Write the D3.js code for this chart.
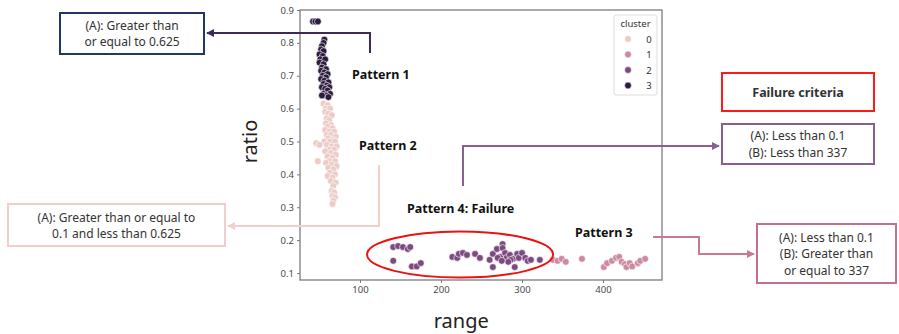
<!DOCTYPE html>
<html>
<head>
<meta charset="utf-8">
<script src="https://cdn.jsdelivr.net/npm/d3@7"></script>
<style>
  body { margin: 0; background: #fff; }
  text { font-family: "Noto Sans", "Open Sans", sans-serif; }
</style>
</head>
<body>
<div id="canvas"></div>
<script>
"use strict"

// canvas size
let svgWidth = 899;
let svgHeight = 334;

// plot frame (pixels)
let plotLeft = 300;
let plotRight = 662;
let plotTop = 10;
let plotBottom = 280;

// DATA, [range, ratio]

let cluster3 = [
    [42, 0.865], [45, 0.865], [48, 0.865],
    [56, 0.81], [55, 0.80], [53, 0.79], [52, 0.78], [55, 0.775], [50, 0.765], [54, 0.76],
    [51, 0.75], [57, 0.75], [50, 0.74], [55, 0.735], [53, 0.725], [58, 0.72], [52, 0.715],
    [56, 0.71], [60, 0.705], [54, 0.70], [58, 0.695], [52, 0.69], [56, 0.685], [61, 0.68],
    [55, 0.675], [59, 0.67], [53, 0.665], [62, 0.665], [57, 0.66], [60, 0.655], [55, 0.645],
    [63, 0.645], [58, 0.64], [61, 0.635], [53, 0.64]
];

let cluster0 = [
    [55, 0.615], [60, 0.61], [58, 0.60], [63, 0.60], [57, 0.59], [61, 0.585], [65, 0.58],
    [59, 0.57], [62, 0.565], [58, 0.555], [64, 0.55], [60, 0.545], [66, 0.54], [57, 0.535],
    [62, 0.53], [68, 0.53], [59, 0.52], [64, 0.52], [70, 0.515], [61, 0.51], [66, 0.505],
    [56, 0.50], [63, 0.50], [69, 0.50], [46, 0.495], [50, 0.49], [59, 0.49], [65, 0.485],
    [71, 0.485], [62, 0.475], [68, 0.475], [57, 0.47], [64, 0.465], [70, 0.46], [60, 0.455],
    [66, 0.45], [48, 0.44], [62, 0.44], [69, 0.44], [58, 0.435], [65, 0.43], [71, 0.425],
    [61, 0.42], [67, 0.415], [63, 0.405], [69, 0.40], [60, 0.395], [66, 0.39], [64, 0.38],
    [70, 0.375], [67, 0.365], [65, 0.35], [68, 0.345], [66, 0.335], [69, 0.33], [67, 0.32],
    [66, 0.31]
];

let cluster2 = [
    [141, 0.179], [147, 0.182], [153, 0.179], [159, 0.173], [162, 0.179], [141, 0.137],
    [164, 0.12], [170, 0.12], [175, 0.13],
    [214, 0.149], [220, 0.146], [222, 0.158], [227, 0.161], [232, 0.155],
    [242, 0.158], [248, 0.146],
    [260, 0.14], [264, 0.158], [264, 0.118], [269, 0.173], [273, 0.149], [276, 0.188],
    [276, 0.176], [279, 0.161], [281, 0.146], [270, 0.146], [285, 0.155], [289, 0.143],
    [291, 0.118], [294, 0.158], [296, 0.146], [300, 0.161], [304, 0.146], [307, 0.137],
    [311, 0.14], [322, 0.14], [286, 0.14], [283, 0.134], [275, 0.137]
];

let cluster1 = [
    [338, 0.14], [344, 0.137], [349, 0.143], [354, 0.134], [374, 0.143],
    [401, 0.118], [405, 0.13], [411, 0.137], [416, 0.146], [420, 0.149], [423, 0.134],
    [427, 0.127], [429, 0.118], [433, 0.13], [436, 0.12], [443, 0.13], [446, 0.137],
    [452, 0.143]
];

let clusterNames = ["0", "1", "2", "3"];
let clusterColors = ["#ecccc6", "#cc8aa2", "#7c4a80", "#2c1d3d"];

let xTicks = [100, 200, 300, 400];
let yTicks = [0.1, 0.2, 0.3, 0.4, 0.5, 0.6, 0.7, 0.8, 0.9];

// merge into one list for drawing
let points = [];
[cluster0, cluster1, cluster2, cluster3].forEach(function (list, i) {
    list.forEach(function (p) {
        points.push({ range: p[0], ratio: p[1], cluster: clusterNames[i] });
    });
});

// SCALES
let xScale = d3.scaleLinear()
    .domain([25.9, 472.8])
    .range([plotLeft, plotRight]);

let yScale = d3.scaleLinear()
    .domain([0.0787, 0.9])
    .range([plotBottom, plotTop]);

let colorScale = d3.scaleOrdinal()
    .domain(clusterNames)
    .range(clusterColors);

// CANVAS
let svg = d3.select("#canvas")
    .append("svg")
    .attr("width", svgWidth)
    .attr("height", svgHeight);

svg.append("rect")
    .attr("width", svgWidth)
    .attr("height", svgHeight)
    .attr("fill", "white");

// arrowheads
let defs = svg.append("defs");
function addMarker(id, color) {
    defs.append("marker")
        .attr("id", id)
        .attr("viewBox", "0 0 10 10")
        .attr("refX", 9)
        .attr("refY", 5)
        .attr("markerWidth", 4)
        .attr("markerHeight", 4)
        .attr("orient", "auto")
        .append("path")
        .attr("d", "M0,0 L10,5 L0,10 z")
        .attr("fill", color);
}
addMarker("arrDark", "#3d2a58");
addMarker("arrLight", "#f3cfcb");
addMarker("arrPurple", "#8d5d90");
addMarker("arrPink", "#c87794");

// AXES
let xAxis = svg.append("g")
    .attr("transform", "translate(0," + plotBottom + ")")
    .call(d3.axisBottom(xScale).tickValues(xTicks).tickSize(3).tickFormat(d3.format("d")));

let yAxis = svg.append("g")
    .attr("transform", "translate(" + plotLeft + ",0)")
    .call(d3.axisLeft(yScale).tickValues(yTicks).tickSize(3).tickFormat(d3.format(".1f")));

[xAxis, yAxis].forEach(function (ax) {
    ax.select(".domain").remove();
    ax.selectAll("line").attr("stroke", "#7a7a7a");
    ax.selectAll("text")
        .attr("fill", "#4a4a4a")
        .style("font-size", "9.5px")
        .style("font-family", "'Noto Sans', sans-serif");
});

// frame
svg.append("rect")
    .attr("x", plotLeft)
    .attr("y", plotTop)
    .attr("width", plotRight - plotLeft)
    .attr("height", plotBottom - plotTop)
    .attr("fill", "none")
    .attr("stroke", "#7d7d7d")
    .attr("stroke-width", 1.3);

// axis titles
svg.append("text")
    .attr("x", xScale(225))
    .attr("y", 328)
    .attr("text-anchor", "middle")
    .style("font-size", "20px")
    .attr("fill", "#222")
    .text("range");

svg.append("text")
    .attr("transform", "translate(257," + yScale(0.5) + ") rotate(-90)")
    .attr("text-anchor", "middle")
    .style("font-size", "20px")
    .attr("fill", "#222")
    .text("ratio");

// SCATTER
svg.selectAll("circle.point")
    .data(points)
    .join("circle")
    .attr("class", "point")
    .attr("cx", function (d) { return xScale(d.range); })
    .attr("cy", function (d) { return yScale(d.ratio); })
    .attr("r", 3.4)
    .attr("fill", function (d) { return colorScale(d.cluster); })
    .attr("stroke", "white")
    .attr("stroke-width", 0.6);

// LEGEND
let legend = svg.append("g");
legend.append("rect")
    .attr("x", 614).attr("y", 15)
    .attr("width", 43).attr("height", 80)
    .attr("rx", 2)
    .attr("fill", "white")
    .attr("stroke", "#dddddd");
legend.append("text")
    .attr("x", 635.5).attr("y", 27)
    .attr("text-anchor", "middle")
    .style("font-size", "9.5px")
    .attr("fill", "#333")
    .text("cluster");
clusterNames.forEach(function (c, i) {
    legend.append("circle")
        .attr("cx", 628).attr("cy", 39 + i * 15.5)
        .attr("r", 3.4)
        .attr("fill", colorScale(c))
        .attr("stroke", "white")
        .attr("stroke-width", 0.6);
    legend.append("text")
        .attr("x", 649).attr("y", 42.5 + i * 15.5)
        .attr("text-anchor", "middle")
        .style("font-size", "9.5px")
        .attr("fill", "#333")
        .text(c);
});

// ANNOTATIONS

function patternLabel(x, y, txt) {
    svg.append("text")
        .attr("x", x).attr("y", y)
        .style("font-size", "12.5px")
        .style("font-weight", "bold")
        .attr("fill", "#111")
        .text(txt);
}
patternLabel(352, 79, "Pattern 1");
patternLabel(359, 150, "Pattern 2");
patternLabel(407, 213, "Pattern 4: Failure");
patternLabel(575, 237, "Pattern 3");

function box(x, y, w, h, color, lines, lineGap, bold) {
    svg.append("rect")
        .attr("x", x).attr("y", y)
        .attr("width", w).attr("height", h)
        .attr("fill", "white")
        .attr("stroke", color)
        .attr("stroke-width", 2);
    let startY = y + h / 2 - (lines.length - 1) * lineGap / 2 + 4.5;
    lines.forEach(function (t, i) {
        svg.append("text")
            .attr("x", x + w / 2)
            .attr("y", startY + i * lineGap)
            .attr("text-anchor", "middle")
            .style("font-size", bold ? "12.5px" : "12px")
            .style("font-weight", bold ? "bold" : "normal")
            .attr("fill", "#333")
            .text(t);
    });
}

// pattern 1 arrow + box
svg.append("path")
    .attr("d", "M370,53 L370,33 L207,33")
    .attr("fill", "none")
    .attr("stroke", "#3d2a58")
    .attr("stroke-width", 2)
    .attr("marker-end", "url(#arrDark)");
box(60, 13, 144, 41, "#203864", ["(A): Greater than", "or equal to 0.625"], 16.5, false);

// pattern 2 arrow + box
svg.append("path")
    .attr("d", "M379,165 L379,226 L228,226")
    .attr("fill", "none")
    .attr("stroke", "#f3cfcb")
    .attr("stroke-width", 2)
    .attr("marker-end", "url(#arrLight)");
box(8, 204, 217, 42, "#f3cdc9", ["(A): Greater than or equal to", "0.1 and less than 0.625"], 16, false);

// pattern 4 ellipse + arrow + boxes
svg.append("ellipse")
    .attr("cx", xScale(223.5))
    .attr("cy", yScale(0.156))
    .attr("rx", 93)
    .attr("ry", 23)
    .attr("fill", "none")
    .attr("stroke", "#ee1111")
    .attr("stroke-width", 2);

svg.append("path")
    .attr("d", "M463,186 L463,146 L719,146")
    .attr("fill", "none")
    .attr("stroke", "#8d5d90")
    .attr("stroke-width", 2)
    .attr("marker-end", "url(#arrPurple)");
box(722, 73, 152, 38, "#ff1a1a", ["Failure criteria"], 16, true);
box(722, 124, 152, 40, "#8d5d90", ["(A): Less than 0.1", "(B): Less than 337"], 16.5, false);

// pattern 3 arrow + box
svg.append("path")
    .attr("d", "M653,237 L699,237 L699,254 L754,254")
    .attr("fill", "none")
    .attr("stroke", "#c87794")
    .attr("stroke-width", 2)
    .attr("marker-end", "url(#arrPink)");
box(757, 224, 139, 59, "#c4708d", ["(A): Less than 0.1", "(B): Greater than", "or equal to 337"], 16.5, false);
</script>
</body>
</html>
